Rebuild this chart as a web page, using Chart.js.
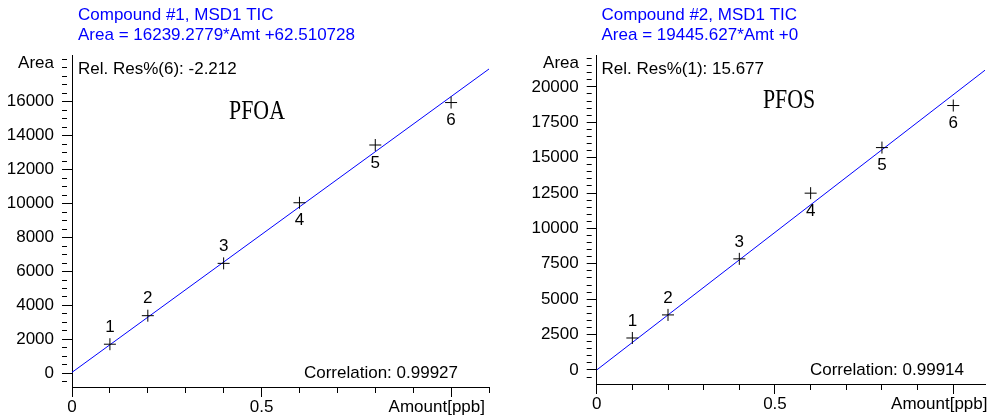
<!DOCTYPE html>
<html>
<head>
<meta charset="utf-8">
<script src="https://cdn.jsdelivr.net/npm/chart.js@4.4.1/dist/chart.umd.min.js"></script>
<style>
    html, body { margin: 0; padding: 0; background: #fff; }
    #wrap { position: relative; width: 992px; height: 419px; overflow: hidden; }
    .box { position: absolute; top: 0; width: 496px; height: 419px; }
</style>
</head>
<body>
<div id="wrap">
    <div class="box" style="left:0"><canvas id="pfoaChart" width="496" height="419"></canvas></div>
    <div class="box" style="left:496px"><canvas id="pfosChart" width="496" height="419"></canvas></div>
</div>
<script>
// Calibration curves - PFOA / PFOS (MSD1 TIC)

// calibration levels
const amounts = [0.1, 0.2, 0.4, 0.6, 0.8, 1.0];
const levelNames = ['1', '2', '3', '4', '5', '6'];

const pfoaAreas = [1720, 3400, 6480, 10050, 13450, 15950];
const pfosAreas = [2260, 3890, 7850, 12490, 15710, 18680];

// fit: [slope, intercept]
const pfoaFit = [16239.2779, 62.510728];
const pfosFit = [19445.627, 0];

// labelled ticks
const xTickLabels = [0, 0.5];
const xMajorTicks = [0, 0.5, 1.0];
const pfoaYTickLabels = [0, 2000, 4000, 6000, 8000, 10000, 12000, 14000, 16000];
const pfosYTickLabels = [0, 2500, 5000, 7500, 10000, 12500, 15000, 17500, 20000];

const FONT = '"Liberation Sans", Arial, sans-serif';
const BLUE = '#0000ff';

function hasValue(list, v) {
    return list.some(function(t) { return Math.abs(t - v) < 1e-6; });
}

/**
 * Minor ticks every `step`, aligned on multiples of it (not on the axis min)
 */
function stepTicks(step) {
    return function(scale) {
        const ticks = [];
        const first = Math.ceil(scale.min / step - 1e-9);
        const last = Math.floor(scale.max / step + 1e-9);
        for (let k = first; k <= last; k++) {
            ticks.push({ value: Math.round(k * step * 1000) / 1000 });
        }
        scale.ticks = ticks;
    };
}

/**
 * Draw all the static texts and point numbers
 */
const textPlugin = {
    id: 'calibTexts',
    afterDraw: function(chart) {
        const t = chart.options.plugins.calibTexts;
        const ctx = chart.ctx;
        ctx.save();
        ctx.textBaseline = 'middle';
        ctx.font = '17px ' + FONT;

        ctx.fillStyle = BLUE;
        ctx.textAlign = 'left';
        ctx.fillText(t.title, t.titleX, 15);
        ctx.fillText(t.equation, t.titleX, 35);

        ctx.fillStyle = '#000';
        ctx.fillText(t.relRes, t.titleX, 69);
        ctx.textAlign = 'right';
        ctx.fillText('Area', t.areaX, 63);
        ctx.fillText(t.correlation, t.corrX, t.corrY);
        ctx.fillText('Amount[ppb]', t.amountX, t.amountY);

        // point numbers: above for low levels, below for high ones
        ctx.textAlign = 'center';
        const meta = chart.getDatasetMeta(0);
        meta.data.forEach(function(pt, i) {
            const dy = i < 3 ? -17 : 18;
            ctx.fillText(levelNames[i], pt.x, pt.y + dy);
        });

        // compound name, narrow serif
        ctx.font = '28px "Liberation Serif", "Times New Roman", serif';
        ctx.translate(t.nameX, t.nameY);
        ctx.scale(0.78, 1);
        ctx.fillText(t.name, 0, 0);
        ctx.restore();
    }
};

/**
 * Build one calibration chart
 */
function initCalibChart(canvasId, areas, fit, yLabels, cfg) {
    const ctx = document.getElementById(canvasId);
    if (!ctx) return;

    window.charts = window.charts || {};

    const points = amounts.map(function(x, i) { return { x: x, y: areas[i] }; });
    const fitLine = [
        { x: 0, y: fit[1] },
        { x: cfg.xMax, y: fit[0] * cfg.xMax + fit[1] }
    ];

    const data = {
        datasets: [{
            label: 'Levels',
            data: points,
            showLine: false,
            pointStyle: 'cross',
            pointRadius: 6,
            borderColor: '#000',
            borderWidth: 1,
            order: 0
        }, {
            label: 'Fit',
            type: 'line',
            data: fitLine,
            borderColor: BLUE,
            borderWidth: 1,
            pointRadius: 0,
            fill: false,
            order: 1
        }]
    };

    const options = {
        responsive: false,
        animation: false,
        events: [],
        layout: {
            padding: { top: 55, right: cfg.padRight, left: 0, bottom: 0 }
        },
        plugins: {
            legend: { display: false },
            tooltip: { enabled: false },
            calibTexts: cfg.texts
        },
        scales: {
            x: {
                type: 'linear',
                min: 0,
                max: cfg.xMax,
                afterBuildTicks: stepTicks(0.1),
                afterFit: function(scale) { scale.height = cfg.xAxisHeight; },
                border: { display: true, color: '#000', width: 1 },
                grid: {
                    drawOnChartArea: false,
                    drawTicks: true,
                    tickLength: 10,
                    tickColor: '#000',
                    tickBorderDash: function(c) {
                        return c.tick && hasValue(xMajorTicks, c.tick.value) ? [] : [5, 20];
                    }
                },
                ticks: {
                    autoSkip: false,
                    maxRotation: 0,
                    padding: 0,
                    color: '#000',
                    font: { family: FONT, size: 17 },
                    callback: function(value) {
                        return hasValue(xTickLabels, value) ? String(Math.round(value * 10) / 10) : '';
                    }
                }
            },
            y: {
                type: 'linear',
                min: cfg.yMin,
                max: cfg.yMax,
                afterBuildTicks: stepTicks(500),
                afterFit: function(scale) { scale.width = cfg.yAxisWidth; },
                border: { display: true, color: '#000', width: 1 },
                grid: {
                    drawOnChartArea: false,
                    drawTicks: true,
                    tickLength: 10,
                    tickColor: '#000',
                    tickBorderDash: function(c) {
                        return c.tick && hasValue(yLabels, c.tick.value) ? [] : [5, 20];
                    }
                },
                ticks: {
                    autoSkip: false,
                    padding: 8,
                    color: '#000',
                    font: { family: FONT, size: 17 },
                    callback: function(value) {
                        return hasValue(yLabels, value) ? String(Math.round(value)) : '';
                    }
                }
            }
        }
    };

    window.charts[canvasId] = new Chart(ctx, {
        type: 'scatter',
        data: data,
        options: options,
        plugins: [textPlugin]
    });
}

initCalibChart('pfoaChart', pfoaAreas, pfoaFit, pfoaYTickLabels, {
    xMax: 1.1,
    yMin: -800,
    yMax: 18750,
    yAxisWidth: 72,
    xAxisHeight: 32,
    padRight: 5,
    texts: {
        title: 'Compound #1, MSD1 TIC',
        equation: 'Area = 16239.2779*Amt +62.510728',
        relRes: 'Rel. Res%(6): -2.212',
        correlation: 'Correlation: 0.99927',
        name: 'PFOA',
        titleX: 78, areaX: 54,
        corrX: 458, corrY: 373,
        amountX: 485, amountY: 407,
        nameX: 257, nameY: 112
    }
});

initCalibChart('pfosChart', pfosAreas, pfosFit, pfosYTickLabels, {
    xMax: 1.089,
    yMin: -990,
    yMax: 22250,
    yAxisWidth: 100.7,
    xAxisHeight: 35,
    padRight: 1,
    texts: {
        title: 'Compound #2, MSD1 TIC',
        equation: 'Area = 19445.627*Amt +0',
        relRes: 'Rel. Res%(1): 15.677',
        correlation: 'Correlation: 0.99914',
        name: 'PFOS',
        titleX: 105.5, areaX: 83,
        corrX: 468, corrY: 370,
        amountX: 491.5, amountY: 404,
        nameX: 293, nameY: 101
    }
});
</script>
</body>
</html>
